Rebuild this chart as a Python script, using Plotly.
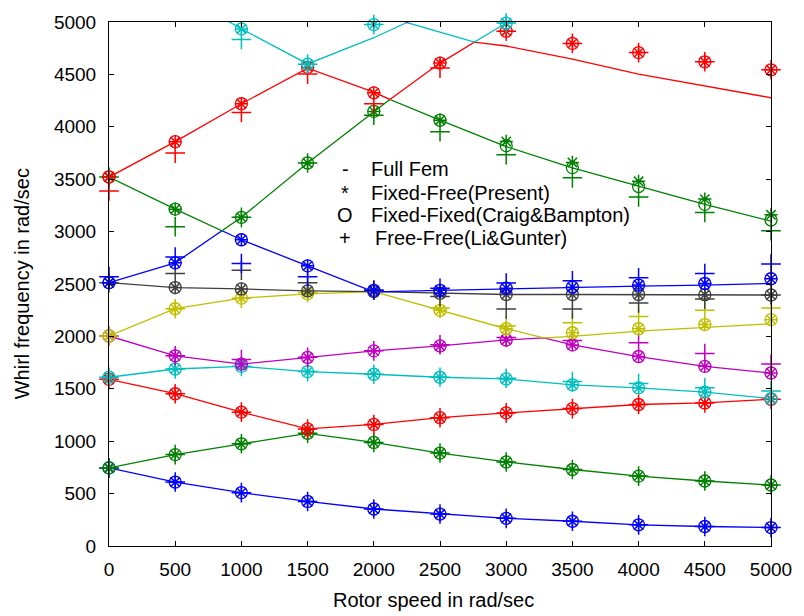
import plotly.graph_objects as go

# ---------------- data ----------------
speeds = [0, 500, 1000, 1500, 2000, 2500, 3000, 3500, 4000, 4500, 5000]
x_ticks = [0, 500, 1000, 1500, 2000, 2500, 3000, 3500, 4000, 4500, 5000]
y_ticks = [0, 500, 1000, 1500, 2000, 2500, 3000, 3500, 4000, 4500, 5000]

# Full FEM lines (x positions, whirl frequencies)
fem1_x = speeds
fem1 = [745, 610, 509, 425, 353, 305, 264, 236, 202, 186, 176]
fem2_x = speeds
fem2 = [745, 872, 975, 1075, 988, 887, 802, 730, 667, 620, 582]
fem3_x = speeds
fem3 = [1590, 1453, 1277, 1117, 1160, 1224, 1270, 1311, 1350, 1365, 1400]
fem4_x = speeds
fem4 = [1610, 1689, 1714, 1664, 1639, 1610, 1594, 1538, 1509, 1469, 1406]
fem5_x = [0, 500, 1000, 1500, 2000, 2500, 3000, 3285, 3500, 4000, 4500, 5000]
fem5 = [2004, 1815, 1736, 1799, 1862, 1909, 1966, 1985, 1919, 1808, 1714, 1651]
fem6_x = [0, 500, 1000, 1500, 2000, 2500, 3000, 3285, 3500, 4000, 4500, 5000]
fem6 = [2004, 2264, 2365, 2406, 2428, 2249, 2073, 1985, 2000, 2050, 2082, 2120]
fem7_x = speeds
fem7 = [2513, 2466, 2453, 2434, 2428, 2412, 2400, 2400, 2400, 2398, 2395]
fem8_x = [0, 500, 853, 1000, 1500, 2000, 2500, 3000, 3500, 4000, 4500, 5000]
fem8 = [2513, 2702, 3008, 2922, 2673, 2425, 2440, 2455, 2470, 2480, 2490, 2505]
fem9_x = [0, 500, 853, 1000, 1500, 2000, 2121, 2500, 3000, 3500, 4000, 4500, 5000]
fem9 = [3520, 3214, 3008, 3136, 3655, 4147, 4261, 4063, 3811, 3607, 3434, 3260, 3100]
fem10_x = [0, 500, 1000, 1500, 2000, 2121, 2500, 2760, 3000, 3500, 4000, 4500, 5000]
fem10 = [3520, 3858, 4220, 4560, 4330, 4261, 4608, 4808, 4771, 4645, 4503, 4393, 4277]
fem11_x = [500, 1000, 1500, 2000, 2250, 2500, 2760, 3000, 3500]
fem11 = [5300, 4934, 4600, 4850, 4995, 4900, 4808, 4990, 5400]
fem12_x = [1750, 2250, 2750]
fem12 = [5300, 4995, 5300]

# Fixed-Free (Present) values at each rotor speed
present1 = [745, 610, 509, 425, 353, 305, 264, 236, 202, 186, 176]
present2 = [745, 872, 975, 1075, 988, 887, 802, 730, 667, 620, 582]
present3 = [1590, 1453, 1277, 1117, 1160, 1224, 1270, 1311, 1350, 1365, 1400]
present4 = [1610, 1689, 1714, 1664, 1639, 1610, 1594, 1538, 1509, 1469, 1406]
present5 = [2004, 1815, 1736, 1799, 1862, 1909, 1966, 1919, 1808, 1714, 1651]
present6 = [2004, 2264, 2365, 2406, 2428, 2249, 2073, 2035, 2073, 2113, 2160]
present7 = [2513, 2466, 2453, 2434, 2428, 2412, 2400, 2400, 2400, 2398, 2395]
present8 = [2513, 2702, 2922, 2673, 2440, 2440, 2460, 2470, 2490, 2505, 2550]
present9 = [3520, 3214, 3136, 3655, 4147, 4063, 3860, 3660, 3480, 3310, 3160]
present10 = [3523, 3858, 4220, 4567, 4324, 4608, 4912, 4796, 4708, 4620, 4544]
present11 = [None, None, 4934, 4598, 4975, None, 4990, None, None, None, None]

# Fixed-Fixed (Craig & Bampton)
craig1 = [745, 610, 509, 425, 353, 305, 264, 236, 202, 186, 176]
craig2 = [745, 872, 975, 1075, 988, 887, 802, 730, 667, 620, 582]
craig3 = [1590, 1453, 1277, 1117, 1160, 1224, 1270, 1311, 1350, 1365, 1400]
craig4 = [1610, 1689, 1714, 1664, 1639, 1610, 1594, 1538, 1509, 1469, 1406]
craig5 = [2004, 1815, 1736, 1799, 1862, 1909, 1966, 1919, 1808, 1714, 1651]
craig6 = [2004, 2264, 2365, 2406, 2428, 2249, 2073, 2035, 2073, 2113, 2160]
craig7 = [2513, 2466, 2453, 2434, 2428, 2412, 2400, 2400, 2400, 2398, 2395]
craig8 = [2513, 2702, 2922, 2673, 2440, 2440, 2460, 2470, 2490, 2505, 2550]
craig9 = [3520, 3214, 3136, 3655, 4147, 4063, 3820, 3610, 3430, 3260, 3110]
craig10 = [3523, 3858, 4220, 4567, 4324, 4608, 4912, 4796, 4708, 4620, 4544]
craig11 = [None, None, 4934, 4598, 4975, None, 4990, None, None, None, None]

# Free-Free (Li & Gunter)
li1 = [745, 610, 509, 425, 353, 305, 264, 236, 202, 186, 176]
li2 = [745, 872, 975, 1075, 988, 887, 802, 730, 667, 620, 582]
li3 = [1590, 1453, 1277, 1117, 1160, 1224, 1270, 1311, 1350, 1365, 1400]
li4 = [1610, 1689, 1714, 1664, 1639, 1610, 1600, 1570, 1550, 1510, 1480]
li5 = [2004, 1815, 1780, 1800, 1862, 1920, 1990, 1960, 1940, 1837, 1736]
li6 = [2004, 2264, 2365, 2420, 2440, 2270, 2100, 2130, 2190, 2250, 2270]
li7 = [2513, 2601, 2632, 2513, 2440, 2380, 2262, 2262, 2318, 2356, 2396]
li8 = [2570, 2758, 2695, 2570, 2440, 2460, 2510, 2530, 2560, 2600, 2690]
li9 = [3520, 3047, 3136, 3655, 4110, 3953, 3733, 3513, 3330, 3183, 3009]
li10 = [3387, 3749, 4136, 4503, 4220, 4560, 4912, 4796, 4708, 4620, 4544]
li11 = [None, None, 4834, 4598, 4975, None, 4990, None, None, None, None]

legend_symbols = ["-", "*", "O", "+"]
legend_labels = ["Full Fem", "Fixed-Free(Present)", "Fixed-Fixed(Craig&Bampton)", "Free-Free(Li&Gunter)"]

x_title = "Rotor speed in rad/sec"
y_title = "Whirl frequency in rad/sec"

# ---------------- styles ----------------
colors = ["#0000ff", "#008000", "#ff0000", "#00bfbf", "#bf00bf", "#bfbf00", "#404040",
          "#0000ff", "#008000", "#ff0000", "#00bfbf", "#bf00bf"]
FONT = "Liberation Sans, Arial, sans-serif"

fem_lines = [(fem1_x, fem1), (fem2_x, fem2), (fem3_x, fem3), (fem4_x, fem4),
             (fem5_x, fem5), (fem6_x, fem6), (fem7_x, fem7), (fem8_x, fem8),
             (fem9_x, fem9), (fem10_x, fem10), (fem11_x, fem11), (fem12_x, fem12)]
present_all = [present1, present2, present3, present4, present5, present6,
               present7, present8, present9, present10, present11]
craig_all = [craig1, craig2, craig3, craig4, craig5, craig6,
             craig7, craig8, craig9, craig10, craig11]
li_all = [li1, li2, li3, li4, li5, li6, li7, li8, li9, li10, li11]

fig = go.Figure()

for i, (xs, ys) in enumerate(fem_lines):
    fig.add_trace(go.Scatter(x=xs, y=ys, mode="lines",
                             line=dict(color=colors[i], width=1.3),
                             showlegend=False, hoverinfo="skip"))

for i in range(len(li_all)):
    c = colors[i]
    fig.add_trace(go.Scatter(x=speeds, y=li_all[i], mode="markers", cliponaxis=False,
                             marker=dict(symbol="cross-thin-open", size=14, color=c,
                                         line=dict(color=c, width=1.5)),
                             showlegend=False))
    fig.add_trace(go.Scatter(x=speeds, y=craig_all[i], mode="markers", cliponaxis=False,
                             marker=dict(symbol="circle-open", size=12, color=c,
                                         line=dict(color=c, width=1.3)),
                             showlegend=False))
    fig.add_trace(go.Scatter(x=speeds, y=present_all[i], mode="markers", cliponaxis=False,
                             marker=dict(symbol="asterisk-open", size=11, color=c,
                                         line=dict(color=c, width=1.5)),
                             showlegend=False))

# layout geometry (pixels)
W, H = 804, 616
L, R, T, B = 109, 23, 16, 70
pw, ph = W - L - R, H - T - B

def px_to_paper(px, py):
    return (px - L) / pw, (H - B - py) / ph

annotations = []
leg_y = [165, 189, 211, 234]
sym_x = 349
text_x = [373, 373, 373, 377]
for k in range(4):
    sx, sy = px_to_paper(sym_x, leg_y[k])
    annotations.append(dict(x=sx, y=sy, xref="paper", yref="paper", text=legend_symbols[k],
                            showarrow=False, xanchor="center", yanchor="middle",
                            font=dict(family=FONT, size=20, color="black")))
    tx, ty = px_to_paper(text_x[k], leg_y[k])
    annotations.append(dict(x=tx, y=ty, xref="paper", yref="paper", text=legend_labels[k],
                            showarrow=False, xanchor="left", yanchor="middle",
                            font=dict(family=FONT, size=20, color="black")))

ax, ay = px_to_paper(438, 601)
annotations.append(dict(x=ax, y=ay, xref="paper", yref="paper", text=x_title,
                        showarrow=False, xanchor="center", yanchor="middle",
                        font=dict(family=FONT, size=20, color="black")))
bx, by = px_to_paper(21, 281)
annotations.append(dict(x=bx, y=by, xref="paper", yref="paper", text=y_title, textangle=-90,
                        showarrow=False, xanchor="center", yanchor="middle",
                        font=dict(family=FONT, size=20, color="black")))

axis_common = dict(showgrid=False, zeroline=False, showline=True, linecolor="black",
                   linewidth=1, mirror="ticks", ticks="inside", ticklen=5, tickwidth=1,
                   tickcolor="black", tickfont=dict(family=FONT, size=19, color="black"))

fig.update_layout(
    width=W, height=H,
    margin=dict(l=L, r=R, t=T, b=B),
    paper_bgcolor="white", plot_bgcolor="white",
    showlegend=False,
    annotations=annotations,
    xaxis=dict(range=[0, 5000], tickmode="array", tickvals=x_ticks,
               ticklabelstandoff=6, **axis_common),
    yaxis=dict(range=[0, 5000], tickmode="array", tickvals=y_ticks,
               ticklabelstandoff=8, **axis_common),
)

fig.write_html("out.html")
